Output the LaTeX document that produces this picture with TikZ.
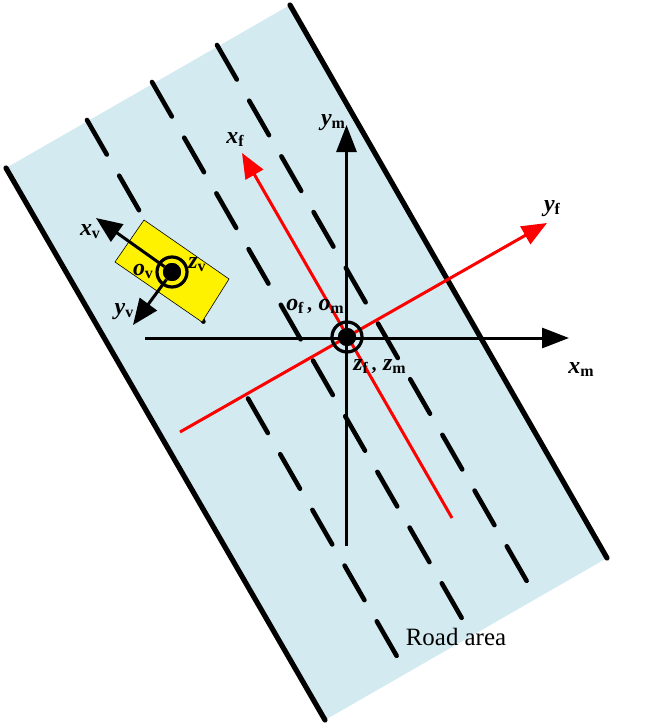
\documentclass[tikz,border=0pt]{standalone}
\usepackage{fontspec}
\setmainfont{Liberation Serif}
\usetikzlibrary{arrows.meta}
\definecolor{roadblue}{HTML}{D2EAF0}
\newcommand{\lab}[2]{{\fontsize{24}{24}\selectfont\bfseries\itshape #1}\raisebox{-3pt}{\fontsize{16}{16}\selectfont\bfseries #2}}
\newcommand{\labsep}{\hspace{3.5bp}{\fontsize{20}{20}\selectfont\bfseries ,}\hspace{6.5bp}}
\tikzset{
  roadarea/.style={fill=roadblue,draw=none},
  roadedge/.style={line width=5.2bp,line cap=round,black},
  lanedash/.style={line width=4.6bp,line cap=round,black},
  carbody/.style={fill=yellow,draw=black,line width=0.6bp},
  axisblack/.style={line width=3bp,black,-{Triangle[length=27bp,width=20bp]}},
  axisred/.style={line width=3bp,red,-{Triangle[length=25bp,width=20bp]}},
  axiscar/.style={line width=3bp,black,-{Triangle[length=26bp,width=21bp]}},
  ringmark/.style={circle,draw=black,line width=3.2bp,minimum size=30bp,inner sep=0pt},
  dotmark/.style={circle,fill=black,minimum size=18bp,inner sep=0pt},
  lbl/.style={inner sep=0pt,text=black}
}
\begin{document}
\begin{tikzpicture}[x=1bp,y=-1bp]
\useasboundingbox (0,0) rectangle (664,727);
% road
\coordinate (rtl) at (6,168);
\coordinate (rtr) at (290,5);
\coordinate (rbr) at (607,558);
\coordinate (rbl) at (325,720);
\fill[roadarea] (rtl) -- (rtr) -- (rbr) -- (rbl) -- cycle;
\draw[roadedge] (rtl) -- (rbl);
\draw[roadedge] (rtr) -- (rbr);
% lane dashes
\foreach \k in {0,1,2,3,5,6,7,8,9}{
  \draw[lanedash] (87+32.2*\k,120+55.7*\k) -- ++(19.8,34.5);
}
\foreach \k in {0,...,9}{
  \draw[lanedash] (152+32.2*\k,82+55.7*\k) -- ++(19.8,34.5);
  \draw[lanedash] (217+32.2*\k,45+55.7*\k) -- ++(19.8,34.5);
}
% car
\coordinate (ca) at (144,220);
\coordinate (cb) at (229,279);
\coordinate (cc) at (202,322);
\coordinate (cd) at (115,262);
\draw[carbody] (ca) -- (cb) -- (cc) -- (cd) -- cycle;
% main axes
\node[dotmark] (om) at (347,337) {};
\coordinate (xmtail) at (145,338);
\coordinate (xmtip) at (569,338);
\coordinate (ymtail) at (346.5,546);
\coordinate (ymtip) at (346.5,125);
\coordinate (xftail) at (452,518);
\coordinate (xftip) at (242,153);
\coordinate (yftail) at (180,432);
\coordinate (yftip) at (547,223);
\draw[axisblack] (xmtail) -- (xmtip);
\draw[axisblack] (ymtail) -- (ymtip);
\draw[axisred] (xftail) -- (xftip);
\draw[axisred] (yftail) -- (yftip);
\node[dotmark] at (om) {};
\node[ringmark] at (om) {};
% car axes
\node (ov) [dotmark] at (172,272) {};
\coordinate (xvtip) at (96,218);
\coordinate (yvtip) at (133,325);
\draw[axiscar] (ov) -- (xvtip);
\draw[axiscar] (ov) -- (yvtip);
\node[dotmark] at (ov) {};
\node[ringmark] at (ov) {};
% labels
\node[lbl] (lxv) at (90,232) {\lab{x}{v}};
\node[lbl] (lyv) at (124,312) {\lab{y}{v}};
\node[lbl] (lov) at (143,271) {\lab{o}{v}};
\node[lbl] (lzv) at (197,265) {\lab{z}{v}};
\node[lbl] (lxf) at (235,140) {\lab{x}{f}};
\node[lbl] (lym) at (333,123) {\lab{y}{m}};
\node[lbl] (lyf) at (552,209) {\lab{y}{f}};
\node[lbl] (lxm) at (581,370) {\lab{x}{m}};
\node[lbl] (loo) at (315,306) {\lab{o}{f}\labsep\lab{o}{m}};
\node[lbl] (lzz) at (379.5,367) {\lab{z}{f}\labsep\lab{z}{m}};
\node[lbl] (road) at (456,637) {\fontsize{25}{25}\selectfont Road area};
\end{tikzpicture}
\end{document}
